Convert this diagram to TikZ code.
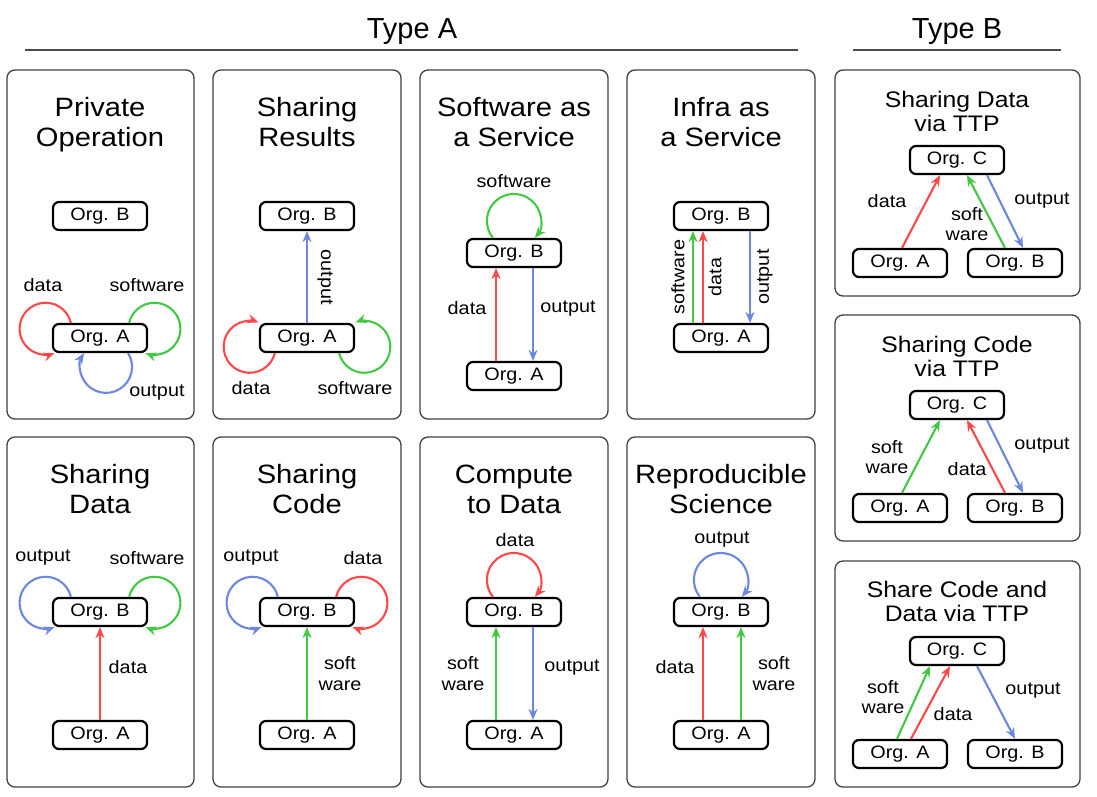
\documentclass[tikz,border=0pt]{standalone}
\usepackage{fontspec}
\setmainfont{Liberation Sans}[FakeStretch=1.1]
\newfontfamily\headfont{Liberation Sans}
\usepackage{xcolor}
\usetikzlibrary{arrows.meta,positioning}
\definecolor{flowred}{RGB}{255,72,72}
\definecolor{flowgreen}{RGB}{66,200,66}
\definecolor{flowblue}{RGB}{108,136,220}

\begin{document}
\begin{tikzpicture}[x=1pt,y=1pt,
    org node/.style={draw,line width=2.2pt,rounded corners=6pt,minimum width=94pt,minimum height=28pt,inner sep=0pt,font=\fontsize{18}{20}\selectfont},
    panel/.style={draw=black!75,line width=1.3pt,rounded corners=8pt},
    panel title/.style={align=center,inner sep=0pt,text depth=6pt,font=\fontsize{26.5}{30}\selectfont},
    small title/.style={align=center,inner sep=0pt,text depth=5pt,font=\fontsize{22.5}{23.5}\selectfont},
    lbl/.style={align=center,inner sep=0pt,text=black,font=\fontsize{18}{20.5}\selectfont},
    flow/.style={line width=2.1pt,-{Stealth[length=11pt,width=9pt]}}]

\useasboundingbox (0,0) rectangle (1097,-796);

%Headings
\node[font=\headfont\fontsize{29}{32}\selectfont] (TypeA) at (412,-32) {Type A};
\node[font=\headfont\fontsize{29}{32}\selectfont] (TypeB) at (957,-32) {Type B};
\draw[line width=1.6pt,black!70] (25,-50) -- (798,-50) (853,-50) -- (1061,-50);

%Panels
\foreach \xl/\xr in {7/194,213/401,420/608,627/815}
  \foreach \yt/\yb in {70/419,437/787}
    \draw[panel] (\xl,-\yt) rectangle (\xr,-\yb);
\foreach \yt/\yb in {70/296,315/541,561/787}
  \draw[panel] (835,-\yt) rectangle (1080,-\yb);

%Titles
\node[panel title] (T1) at (100,-125) {Private\\Operation};
\node[panel title] (T2) at (307,-125) {Sharing\\Results};
\node[panel title] (T3) at (514,-125) {Software as\\a Service};
\node[panel title] (T4) at (721,-125) {Infra as\\a Service};
\node[panel title] (T5) at (100,-492) {Sharing\\Data};
\node[panel title] (T6) at (307,-492) {Sharing\\Code};
\node[panel title] (T7) at (514,-492) {Compute\\to Data};
\node[panel title] (T8) at (721,-492) {Reproducible\\Science};
\node[small title] (T9) at (957,-114) {Sharing Data\\via TTP};
\node[small title] (T10) at (957,-359) {Sharing Code\\via TTP};
\node[small title] (T11) at (957,-604) {Share Code and\\Data via TTP};

%Organisations
\foreach \n/\x in {1/100,2/307,4/721}
  {\node[org node] (B\n) at (\x,-216) {Org. B};
   \node[org node] (A\n) at (\x,-338) {Org. A};}
\node[org node] (B3) at (514,-253) {Org. B};
\node[org node] (A3) at (514,-376) {Org. A};
\foreach \n/\x in {5/100,6/307,7/514,8/721}
  {\node[org node] (B\n) at (\x,-612) {Org. B};
   \node[org node] (A\n) at (\x,-735) {Org. A};}
\foreach \n/\y in {9/160,10/405,11/651}
  {\node[org node] (C\n) at (957,-\y) {Org. C};
   \node[org node] (A\n) at (900,{-\y-103}) {Org. A};
   \node[org node] (B\n) at (1015,{-\y-103}) {Org. B};}

%Private Operation
\draw[flow,flowred] ([xshift=19pt]A1.north west) arc[start angle=13,end angle=290,radius=26pt];
\draw[flow,flowgreen] ([xshift=-19pt]A1.north east) arc[start angle=167,end angle=-110,radius=26pt];
\draw[flow,flowblue] ([xshift=-20pt]A1.south east) arc[start angle=32,end angle=-212,radius=26pt];
\node[lbl] (L1d) at (43,-285) {data};
\node[lbl] (L1s) at (147,-285) {software};
\node[lbl] (L1o) at (157,-393) {output};

%Sharing Results
\draw[flow,flowblue] (A2) -- node[lbl,xshift=18pt,rotate=-90] (L2o) {output} (B2);
\draw[flow,flowred] ([xshift=16pt]A2.south west) arc[start angle=-14,end angle=-290,radius=26pt];
\draw[flow,flowgreen] ([xshift=-16pt]A2.south east) arc[start angle=194,end angle=470,radius=26pt];
\node[lbl] (L2d) at (251,-388) {data};
\node[lbl] (L2s) at (355,-388) {software};

%Software as a Service
\draw[flow,flowred] ([xshift=-18pt]A3.north) -- node[lbl,xshift=-29pt,yshift=6pt] (L3d) {data} ([xshift=-18pt]B3.south);
\draw[flow,flowblue] ([xshift=19pt]B3.south) -- node[lbl,xshift=35pt,yshift=6pt] (L3o) {output} ([xshift=19pt]A3.north);
\draw[flow,flowgreen] ([xshift=27pt]B3.north west) arc[start angle=219,end angle=-39,radius=27pt];
\node[lbl] (L3s) at (514,-181) {software};

%Infra as a Service
\draw[flow,flowgreen] ([xshift=-28pt]A4.north) -- node[lbl,xshift=-15pt,rotate=90] (L4s) {software} ([xshift=-28pt]B4.south);
\draw[flow,flowred] ([xshift=-18pt]A4.north) -- node[lbl,xshift=12pt,rotate=90] (L4d) {data} ([xshift=-18pt]B4.south);
\draw[flow,flowblue] ([xshift=29pt]B4.south) -- node[lbl,xshift=15pt,rotate=90] (L4o) {output} ([xshift=29pt]A4.north);

%Sharing Data
\draw[flow,flowred] (A5) -- node[lbl,xshift=28pt,yshift=6pt] (L5d) {data} (B5);
\draw[flow,flowblue] ([xshift=19pt]B5.north west) arc[start angle=13,end angle=290,radius=26pt];
\draw[flow,flowgreen] ([xshift=-19pt]B5.north east) arc[start angle=167,end angle=-110,radius=26pt];
\node[lbl] (L5o) at (43,-558) {output};
\node[lbl] (L5s) at (147,-558) {software};

%Sharing Code
\draw[flow,flowgreen] (A6) -- node[lbl,xshift=33pt] (L6s) {soft\\ware} (B6);
\draw[flow,flowblue] ([xshift=19pt]B6.north west) arc[start angle=13,end angle=290,radius=26pt];
\draw[flow,flowred] ([xshift=-19pt]B6.north east) arc[start angle=167,end angle=-110,radius=26pt];
\node[lbl] (L6o) at (251,-558) {output};
\node[lbl] (L6d) at (363,-558) {data};

%Compute to Data
\draw[flow,flowgreen] ([xshift=-18pt]A7.north) -- node[lbl,xshift=-33pt] (L7s) {soft\\ware} ([xshift=-18pt]B7.south);
\draw[flow,flowblue] ([xshift=19pt]B7.south) -- node[lbl,xshift=39pt,yshift=6pt] (L7o) {output} ([xshift=19pt]A7.north);
\draw[flow,flowred] ([xshift=27pt]B7.north west) arc[start angle=219,end angle=-39,radius=27pt];
\node[lbl] (L7d) at (515,-540) {data};

%Reproducible Science
\draw[flow,flowred] ([xshift=-18pt]A8.north) -- node[lbl,xshift=-28pt,yshift=6pt] (L8d) {data} ([xshift=-18pt]B8.south);
\draw[flow,flowgreen] ([xshift=20pt]A8.north) -- node[lbl,xshift=33pt] (L8s) {soft\\ware} ([xshift=20pt]B8.south);
\draw[flow,flowblue] ([xshift=27pt]B8.north west) arc[start angle=219,end angle=-39,radius=27pt];
\node[lbl] (L8o) at (722,-540) {output};

%Sharing Data via TTP
\draw[flow,flowred] ([xshift=2pt]A9.north) -- ([xshift=-17pt]C9.south);
\draw[flow,flowgreen] ([xshift=-10pt]B9.north) -- ([xshift=10pt]C9.south);
\draw[flow,flowblue] ([xshift=30pt]C9.south) -- ([xshift=8pt]B9.north);
\node[lbl] (L9d) at (887,-201) {data};
\node[lbl] (L9s) at (967,-224) {soft\\ware};
\node[lbl] (L9o) at (1042,-201) {output};

%Sharing Code via TTP
\draw[flow,flowgreen] ([xshift=2pt]A10.north) -- ([xshift=-17pt]C10.south);
\draw[flow,flowred] ([xshift=-10pt]B10.north) -- ([xshift=10pt]C10.south);
\draw[flow,flowblue] ([xshift=30pt]C10.south) -- ([xshift=8pt]B10.north);
\node[lbl] (L10s) at (887,-457) {soft\\ware};
\node[lbl] (L10d) at (967,-469) {data};
\node[lbl] (L10o) at (1042,-446) {output};

%Share Code and Data via TTP
\draw[flow,flowgreen] ([xshift=-3pt]A11.north) -- ([xshift=-27pt]C11.south);
\draw[flow,flowred] ([xshift=11pt]A11.north) -- ([xshift=-7pt]C11.south);
\draw[flow,flowblue] ([xshift=20pt]C11.south) -- (B11.north);
\node[lbl] (L11s) at (883,-697) {soft\\ware};
\node[lbl] (L11d) at (953,-714) {data};
\node[lbl] (L11o) at (1033,-691) {output};

\end{tikzpicture}
\end{document}
